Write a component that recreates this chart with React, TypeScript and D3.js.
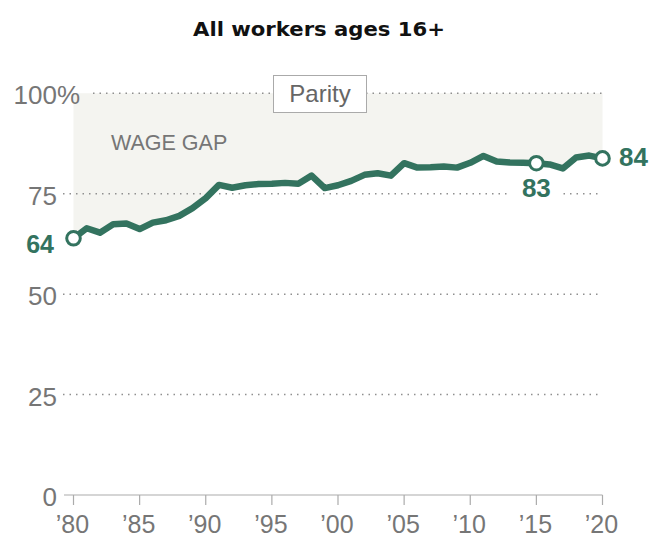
import React from "react";
import * as d3 from "d3";

const years: number[] = [
  1980, 1981, 1982, 1983, 1984, 1985, 1986, 1987, 1988, 1989,
  1990, 1991, 1992, 1993, 1994, 1995, 1996, 1997, 1998, 1999,
  2000, 2001, 2002, 2003, 2004, 2005, 2006, 2007, 2008, 2009,
  2010, 2011, 2012, 2013, 2014, 2015, 2016, 2017, 2018, 2019, 2020,
];
const values: number[] = [
  63.9, 66.4, 65.3, 67.4, 67.6, 66.2, 67.8, 68.4, 69.5, 71.4,
  73.9, 77.2, 76.5, 77.1, 77.4, 77.5, 77.7, 77.5, 79.5, 76.4,
  77.1, 78.2, 79.7, 80.1, 79.5, 82.6, 81.5, 81.6, 81.8, 81.5,
  82.7, 84.4, 83.0, 82.8, 82.7, 82.6, 82.3, 81.3, 84.0, 84.5, 83.8,
];
const yTicks: number[] = [0, 25, 50, 75, 100];
const xTicks: number[] = [1980, 1985, 1990, 1995, 2000, 2005, 2010, 2015, 2020];
const xTickLabels: string[] = ["\u201980", "\u201985", "\u201990", "\u201995", "\u201900", "\u201905", "\u201910", "\u201915", "\u201920"];
const markedYears: number[] = [1980, 2015, 2020];
const markedLabels: string[] = ["64", "83", "84"];
const title = "All workers ages 16+";

const GREEN = "#33735f";
const GRAY_TXT = "#767676";
const FONT = "'Liberation Sans', Arial, sans-serif";

export default function App() {
  const x = d3.scaleLinear().domain([1980, 2020]).range([73.5, 602.5]);
  const y = d3.scaleLinear().domain([0, 100]).range([495, 93.3]);
  const data = years.map((yr, i) => ({ yr, v: values[i] }));

  const line = d3.line<{ yr: number; v: number }>()
    .x((d) => x(d.yr))
    .y((d) => y(d.v));
  const area = d3.area<{ yr: number; v: number }>()
    .x((d) => x(d.yr))
    .y0(() => y(100))
    .y1((d) => y(d.v));

  const pt = (yr: number) => data.find((d) => d.yr === yr)!;

  return (
    <svg
      width={651}
      height={539}
      style={{ position: "absolute", left: 0, top: 0, background: "#fff" }}
      fontFamily={FONT}
    >
      <text
        x={319}
        y={36}
        textAnchor="middle"
        fontFamily="'DejaVu Sans', sans-serif"
        fontWeight="bold"
        fontSize={20}
        textLength={252}
        lengthAdjust="spacingAndGlyphs"
        fill="#111"
      >
        {title}
      </text>

      {/* wage gap shading */}
      <path d={area(data) || ""} fill="#f4f4f0" />

      {/* gridlines */}
      {yTicks.filter((t) => t > 0).map((t) => (
        <line
          key={t}
          x1={t === 100 ? 93 : 63}
          x2={x(2020)}
          y1={y(t)}
          y2={y(t)}
          stroke="#8f8f8f"
          strokeWidth={1.5}
          strokeDasharray="1.5 5"
        />
      ))}

      {/* y labels */}
      {yTicks.map((t) => (
        <text
          key={t}
          x={57}
          y={y(t) + 11}
          textAnchor="end"
          fontSize={26}
          fill={GRAY_TXT}
        >
          {t}
        </text>
      ))}
      <text x={57} y={y(100) + 11} fontSize={26} fill={GRAY_TXT}>%</text>

      {/* x axis */}
      <line x1={64} x2={x(2020)} y1={y(0)} y2={y(0)} stroke="#ababab" strokeWidth={1.2} />
      {xTicks.map((t, i) => (
        <g key={t}>
          <line x1={x(t)} x2={x(t)} y1={y(0)} y2={y(0) + 10} stroke="#ababab" strokeWidth={1.2} />
          <text x={x(t) - 1} y={533} textAnchor="middle" fontSize={25} fill={GRAY_TXT}>
            {xTickLabels[i]}
          </text>
        </g>
      ))}

      {/* Parity box */}
      <rect x={273.5} y={75.5} width={93} height={37} fill="#fff" stroke="#aaaaaa" strokeWidth={1} />
      <text x={320} y={102} textAnchor="middle" fontSize={24} fill="#666">Parity</text>

      <text x={111} y={149.5} fontSize={21.5} fill={GRAY_TXT}>WAGE GAP</text>

      {/* line */}
      <path
        d={line(data) || ""}
        fill="none"
        stroke={GREEN}
        strokeWidth={6.5}
        strokeLinejoin="round"
        strokeLinecap="round"
      />

      {markedYears.map((yr) => (
        <circle
          key={yr}
          cx={x(yr)}
          cy={y(pt(yr).v)}
          r={6.8}
          fill="#fff"
          stroke={GREEN}
          strokeWidth={3}
        />
      ))}

      {/* value labels */}
      <text x={54} y={253} textAnchor="end" fontSize={25} fontWeight="bold" fill={GREEN}>
        {markedLabels[0]}
      </text>
      <rect x={509} y={185} width={50} height={16} fill="#fff" />
      <text x={x(markedYears[1])} y={197} textAnchor="middle" fontSize={26} fontWeight="bold" fill={GREEN}>
        {markedLabels[1]}
      </text>
      <text x={619} y={166} fontSize={26} fontWeight="bold" fill={GREEN}>
        {markedLabels[2]}
      </text>
    </svg>
  );
}
